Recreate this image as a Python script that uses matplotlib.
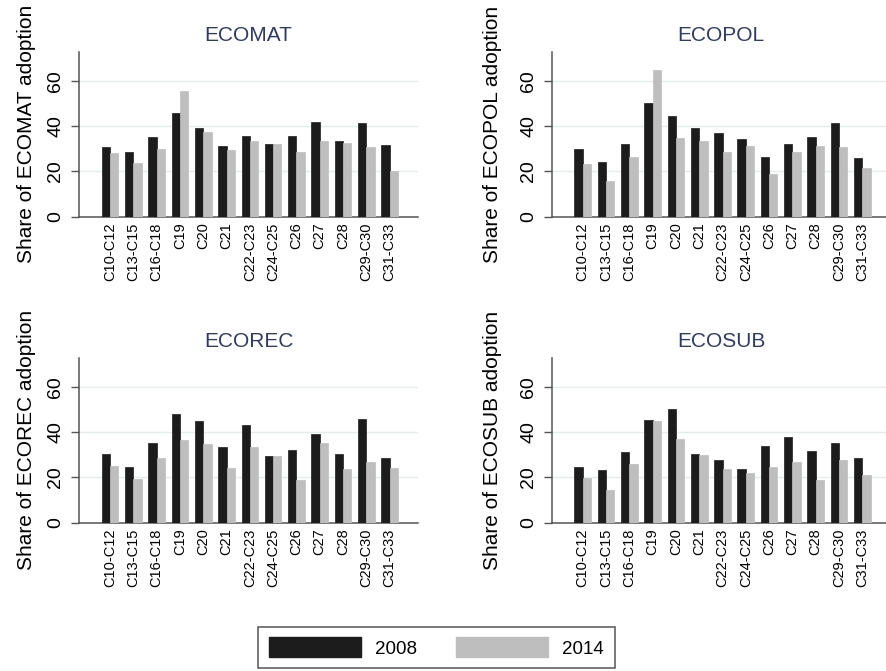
import matplotlib.pyplot as plt
import numpy as np

plt.rcParams['font.family'] = ['Liberation Sans', 'DejaVu Sans']

sectors = ['C10-C12', 'C13-C15', 'C16-C18', 'C19', 'C20', 'C21', 'C22-C23',
           'C24-C25', 'C26', 'C27', 'C28', 'C29-C30', 'C31-C33']

ecomat_2008 = [30.9, 28.4, 35.3, 45.6, 39.0, 31.3, 35.6, 31.9, 35.6, 41.6, 33.2, 41.3, 31.6]
ecomat_2014 = [28.2, 23.7, 29.7, 55.7, 37.2, 29.3, 33.2, 31.9, 28.5, 33.5, 32.6, 30.9, 20.1]

ecopol_2008 = [29.9, 24.1, 31.9, 50.1, 44.6, 39.3, 36.8, 34.3, 26.2, 32.2, 35.0, 41.2, 25.9]
ecopol_2014 = [23.1, 15.9, 26.2, 64.9, 34.6, 33.5, 28.5, 31.3, 18.7, 28.5, 31.0, 30.7, 21.6]

ecorec_2008 = [30.3, 24.7, 35.3, 48.2, 45.0, 33.4, 43.1, 29.3, 31.9, 39.3, 30.3, 45.6, 28.7]
ecorec_2014 = [25.0, 19.4, 28.7, 36.6, 34.9, 24.0, 33.4, 29.6, 18.8, 35.3, 23.5, 26.9, 24.0]

ecosub_2008 = [24.4, 23.2, 31.3, 45.4, 50.4, 30.4, 27.6, 23.7, 34.0, 37.9, 31.8, 35.0, 28.7]
ecosub_2014 = [19.7, 14.3, 25.7, 44.7, 37.1, 30.0, 23.7, 21.8, 24.7, 26.8, 19.0, 27.8, 21.0]

panels = [
    ('ECOMAT', ecomat_2008, ecomat_2014),
    ('ECOPOL', ecopol_2008, ecopol_2014),
    ('ECOREC', ecorec_2008, ecorec_2014),
    ('ECOSUB', ecosub_2008, ecosub_2014),
]

c08 = '#1c1c1c'
c14 = '#bebebe'
axcol = '#555555'

fig = plt.figure(figsize=(8.87, 6.71), dpi=100)

# axes boxes in figure fractions: left, bottom
pos = [(0.0891, 0.6771), (0.6220, 0.6771), (0.0891, 0.2210), (0.6220, 0.2210)]
w, h = 0.3822, 0.2454

x = np.arange(len(sectors))
bw = 0.357

for i, ((name, v08, v14), (l, b)) in enumerate(zip(panels, pos)):
    ax = fig.add_axes([l, b, w, h])
    ax.bar(x - bw / 2, v08, bw, color=c08, edgecolor=c08, linewidth=0.5, zorder=3)
    ax.bar(x + bw / 2, v14, bw, color=c14, edgecolor=c14, linewidth=0.5, zorder=3)
    ax.set_xlim(-1.33, 13.22)
    ax.set_ylim(0, 72.7)
    ax.set_yticks([0, 20, 40, 60])
    ax.set_yticklabels(['0', '20', '40', '60'], rotation=90, va='center', fontsize=14)
    for g in [20, 40, 60]:
        ax.axhline(g, color='#e4eded', lw=1.0, zorder=1)
    ax.set_xticks(x)
    ax.set_xticklabels(sectors, rotation=90, fontsize=10.5)
    ax.tick_params(axis='x', length=0, pad=4)
    ax.tick_params(axis='y', length=5.5, width=1.0, color=axcol, pad=5)
    for s in ['top', 'right']:
        ax.spines[s].set_visible(False)
    ax.spines['left'].set_color(axcol)
    ax.spines['bottom'].set_color(axcol)
    ax.spines['left'].set_linewidth(1.1)
    ax.spines['bottom'].set_linewidth(1.1)
    ax.set_title(name, fontsize=15, color='#2f3b66', pad=8)
    ax.set_ylabel('Share of %s adoption' % name, fontsize=15,
                  labelpad=8 if i % 2 == 0 else 13)

handles = [plt.Rectangle((0, 0), 1, 1, facecolor=c08, edgecolor=c08),
           plt.Rectangle((0, 0), 1, 1, facecolor=c14, edgecolor=c14)]
leg = fig.legend(handles, ['2008', '2014'], ncol=2, loc='center',
                 bbox_to_anchor=(0.4920, 0.0350), fontsize=13.5,
                 handlelength=4.9, handleheight=1.25, handletextpad=0.75,
                 columnspacing=2.1, borderpad=0.58, fancybox=False, framealpha=1)
leg.get_frame().set_edgecolor(axcol)
leg.get_frame().set_linewidth(1.1)

fig.savefig('out.png', dpi=100)
